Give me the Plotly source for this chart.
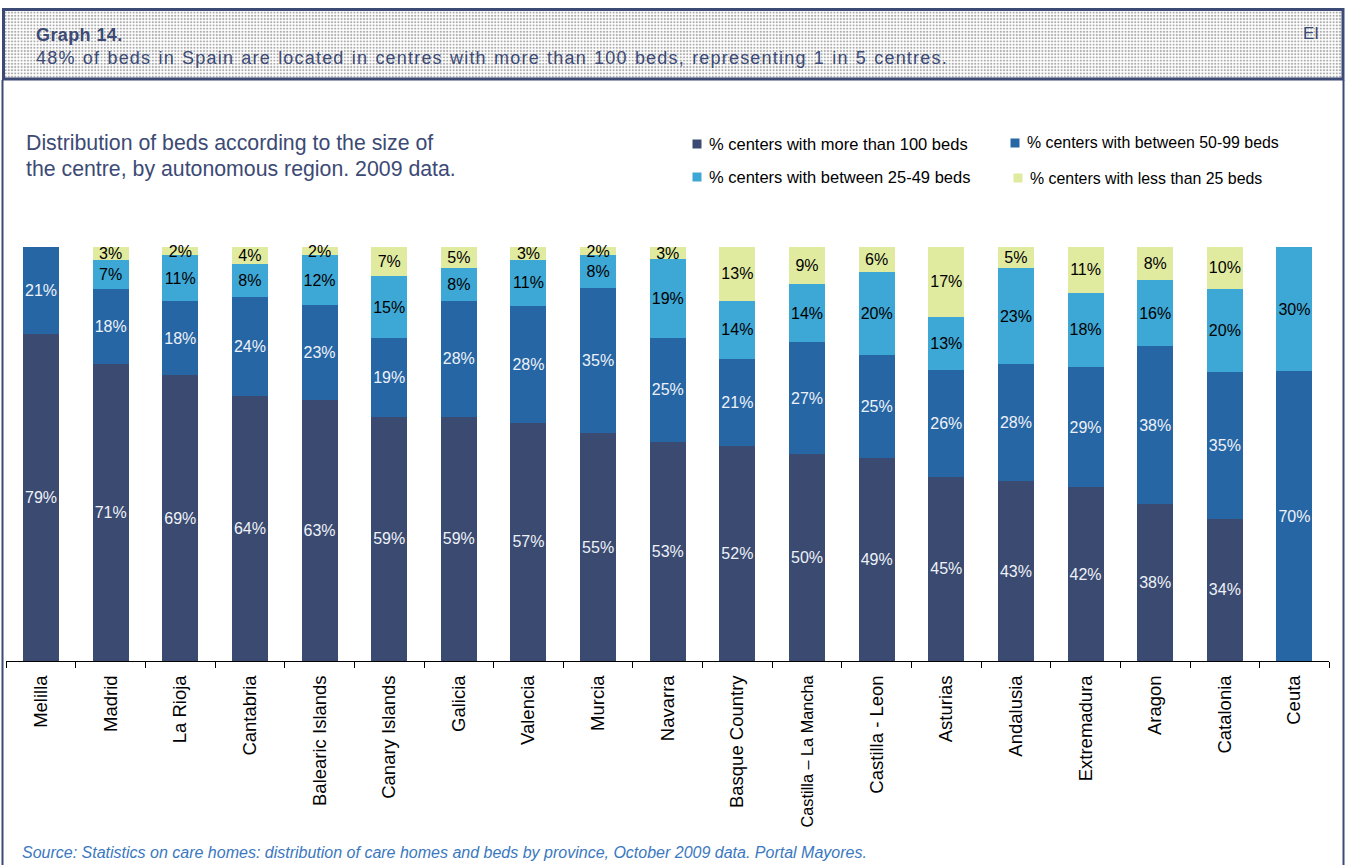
import plotly.graph_objects as go

W, H = 1347, 865

regions = ["Melilla", "Madrid", "La Rioja", "Cantabria", "Balearic Islands", "Canary Islands",
           "Galicia", "Valencia", "Murcia", "Navarra", "Basque Country", "Castilla – La Mancha",
           "Castilla - Leon", "Asturias", "Andalusia", "Extremadura", "Aragon", "Catalonia", "Ceuta"]

more_100 = [79, 71, 69, 64, 63, 59, 59, 57, 55, 53, 52, 50, 49, 45, 43, 42, 38, 34, 0]
btw_50_99 = [21, 18, 18, 24, 23, 19, 28, 28, 35, 25, 21, 27, 25, 26, 28, 29, 38, 35, 70]
btw_25_49 = [0, 7, 11, 8, 12, 15, 8, 11, 8, 19, 14, 14, 20, 13, 23, 18, 16, 20, 30]
less_25 = [0, 3, 2, 4, 2, 7, 5, 3, 2, 3, 13, 9, 6, 17, 5, 11, 8, 10, 0]

series_names = ["% centers with more than 100 beds", "% centers with between 50-99 beds",
                "% centers with between 25-49 beds", "% centers with less than 25 beds"]
series_values = [more_100, btw_50_99, btw_25_49, less_25]
series_colors = ["#3A4A70", "#2666A5", "#3DA7D5", "#E1EBA0"]
label_colors = ["#EEF2F8", "#EEF2F8", "#000000", "#000000"]

NAVY = "#3C4A75"
FONT = "Liberation Sans, Arial"


def px_x(v):
    return v / W


def px_y(v):
    return 1 - v / H


def spaced(text, letter=0.0, word=0.0):
    return (f"<span style='letter-spacing:{letter}px; word-spacing:{word}px'>"
            + text + "</span>")


# tick labels: the long Castilla label is set a little smaller
tick_text = [r if r != "Castilla – La Mancha" else
             "<span style='font-size:16.3px'>" + r + "</span>" for r in regions]

fig = go.Figure()

for name, vals, col, tcol in zip(series_names, series_values, series_colors, label_colors):
    fig.add_trace(go.Bar(
        x=regions, y=vals, name=name,
        marker=dict(color=col, line=dict(width=0)),
        text=[f"{v}%" if v else "" for v in vals],
        textposition="inside", insidetextanchor="middle", textangle=0,
        constraintext="none",
        insidetextfont=dict(family=FONT, size=16, color=tcol),
        textfont=dict(family=FONT, size=16, color=tcol),
        cliponaxis=False, showlegend=False, hoverinfo="skip",
    ))

# stippled header band
fig.add_trace(go.Scatter(
    x=[0, 1, 1, 0, 0], y=[0, 0, 1, 1, 0], xaxis="x2", yaxis="y2",
    mode="lines", line=dict(width=0), fill="toself",
    fillcolor="white",
    fillpattern=dict(shape=".", size=3.2, solidity=0.35, fgcolor="#555555", bgcolor="#FFFFFF"),
    showlegend=False, hoverinfo="skip",
))

fig.update_layout(
    width=W, height=H,
    margin=dict(l=0, r=0, t=0, b=0),
    paper_bgcolor="white", plot_bgcolor="white",
    barmode="stack", barnorm="percent", bargap=0.483,
    font=dict(family=FONT, color="#000000"),
    xaxis=dict(
        domain=[px_x(6.2), px_x(1329.3)],
        tickmode="array", tickvals=regions, ticktext=tick_text,
        tickangle=-90, tickfont=dict(size=18.5, color="#000000"),
        ticks="outside", tickson="boundaries", ticklen=6, tickcolor="#000000", tickwidth=1,
        showline=True, linecolor="#000000", linewidth=1,
        showgrid=False, zeroline=False, ticklabelstandoff=6,
    ),
    yaxis=dict(
        domain=[px_y(661), px_y(247)], range=[0, 100.001],
        visible=False, showgrid=False, zeroline=False,
    ),
    xaxis2=dict(domain=[px_x(4), px_x(1342)], range=[0, 1], visible=False, fixedrange=True),
    yaxis2=dict(domain=[px_y(78), px_y(11)], range=[0, 1], visible=False, fixedrange=True),
    showlegend=False,
)

shapes = [
    # header frame
    dict(type="rect", xref="paper", yref="paper",
         x0=px_x(3.5), x1=px_x(1343), y0=px_y(79), y1=px_y(9.5),
         line=dict(color=NAVY, width=3)),
    # side rules of the panel
    dict(type="line", xref="paper", yref="paper",
         x0=px_x(2.5), x1=px_x(2.5), y0=px_y(80), y1=0,
         line=dict(color=NAVY, width=2)),
    dict(type="line", xref="paper", yref="paper",
         x0=px_x(1343.5), x1=px_x(1343.5), y0=px_y(80), y1=0,
         line=dict(color=NAVY, width=2)),
]

annotations = [
    dict(text="<b>" + spaced("Graph 14.", 0.4) + "</b>", x=px_x(34), y=px_y(35),
         xanchor="left", yanchor="middle", font=dict(size=18, color=NAVY)),
    dict(text="EI", x=px_x(1321), y=px_y(33), xanchor="right", yanchor="middle",
         font=dict(size=17, color=NAVY)),
    dict(text=spaced("48% of beds in Spain are located in centres with more than 100 beds, "
                     "representing 1 in 5 centres.", 1.2, 1),
         x=px_x(34), y=px_y(58), xanchor="left", yanchor="middle",
         font=dict(size=18, color=NAVY)),
    dict(text="Distribution of beds according to the size of",
         x=px_x(24), y=px_y(143), xanchor="left", yanchor="middle",
         font=dict(size=21.3, color=NAVY)),
    dict(text="the centre, by autonomous region. 2009 data.",
         x=px_x(24), y=px_y(169), xanchor="left", yanchor="middle",
         font=dict(size=21.3, color=NAVY)),
    dict(text="<i>Source: Statistics on care homes: distribution of care homes and beds by province, "
              "October 2009 data. Portal Mayores.</i>",
         x=px_x(20), y=px_y(852), xanchor="left", yanchor="middle",
         font=dict(size=16, color="#3A78C0")),
]

# legend: 2 x 2 grid of swatches and labels
legend_pos = [(697, 144, 707, 16.5), (1015, 143, 1025, 15.9),
              (697, 177, 707, 16.5), (1018, 178, 1028, 15.9)]
for (mx, my, tx, fs), name, col in zip(legend_pos, series_names, series_colors):
    shapes.append(dict(type="rect", xref="paper", yref="paper",
                       x0=px_x(mx - 4.5), x1=px_x(mx + 4.5), y0=px_y(my + 4.5), y1=px_y(my - 4.5),
                       fillcolor=col, line=dict(width=0)))
    annotations.append(dict(text=name, x=px_x(tx), y=px_y(my), xanchor="left", yanchor="middle",
                            font=dict(size=fs, color="#000000")))

for a in annotations:
    a.update(xref="paper", yref="paper", showarrow=False)

fig.update_layout(shapes=shapes, annotations=annotations)

fig.write_html("out.html")
